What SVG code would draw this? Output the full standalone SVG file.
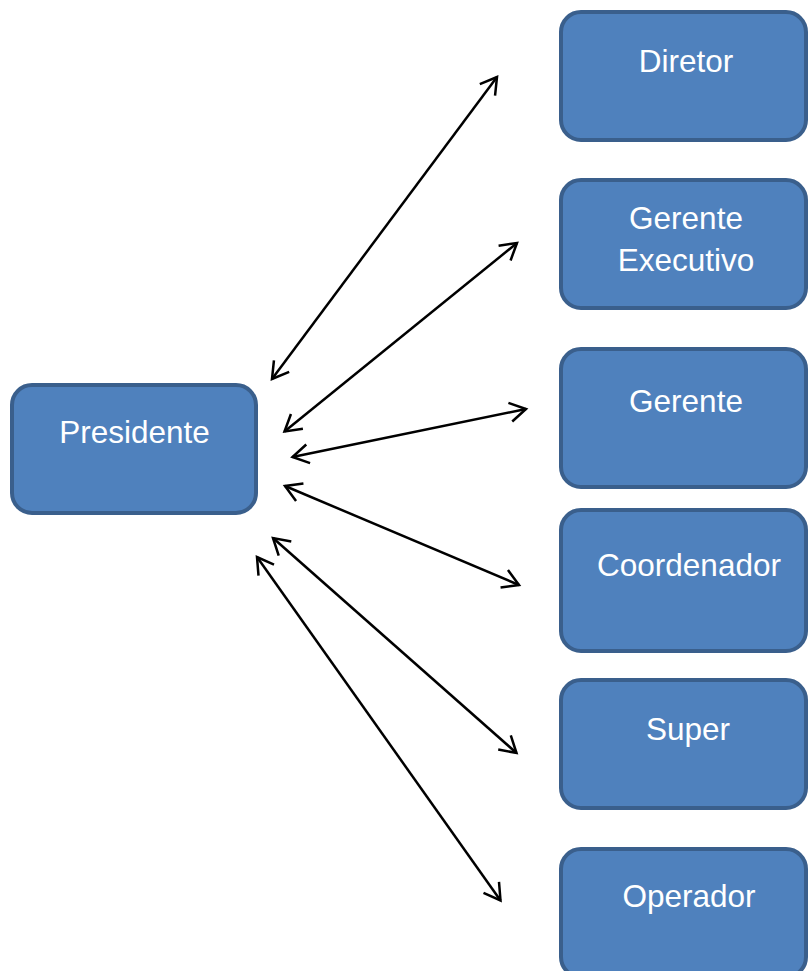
<svg xmlns="http://www.w3.org/2000/svg" width="810" height="971" viewBox="0 0 810 971">
<style>
.box{fill:#4F81BD;stroke:#3A5F8C;stroke-width:4}
.lbl{font-family:"Liberation Sans",Arial,sans-serif;font-size:31.5px;fill:#FFFFFF;text-anchor:middle}
.con{stroke:#000;stroke-width:2.5;fill:none;marker-start:url(#ah);marker-end:url(#ah)}
</style>
<defs>
<marker id="ah" markerUnits="userSpaceOnUse" viewBox="-20 -12 24 24" refX="0" refY="0" markerWidth="24" markerHeight="24" orient="auto-start-reverse">
<path d="M-16,-9.5 L0,0 L-16,9.5" fill="none" stroke="#000" stroke-width="2.5"/>
</marker>
</defs>
<rect width="810" height="971" fill="#FFFFFF"/>
<g id="presidente"><rect class="box" x="12" y="385" width="244" height="128" rx="20"/><text class="lbl" x="134.5" y="443">Presidente</text></g>
<g id="diretor"><rect class="box" x="561" y="12" width="245" height="128" rx="20"/><text class="lbl" x="686" y="72">Diretor</text></g>
<g id="gerente-executivo"><rect class="box" x="561" y="180" width="245" height="128" rx="20"/><text class="lbl" x="686" y="229">Gerente</text><text class="lbl" x="686" y="271">Executivo</text></g>
<g id="gerente"><rect class="box" x="561" y="349" width="245" height="138" rx="20"/><text class="lbl" x="686" y="412">Gerente</text></g>
<g id="coordenador"><rect class="box" x="561" y="510" width="245" height="141" rx="20"/><text class="lbl" x="689" y="576">Coordenador</text></g>
<g id="super"><rect class="box" x="561" y="680" width="245" height="128" rx="20"/><text class="lbl" x="688" y="740">Super</text></g>
<g id="operador"><rect class="box" x="561" y="849" width="245" height="128" rx="20"/><text class="lbl" x="689" y="907">Operador</text></g>
<g id="connectors">
<line class="con" x1="272" y1="379" x2="497" y2="77"/>
<line class="con" x1="284.5" y1="431.5" x2="517" y2="243"/>
<line class="con" x1="292.5" y1="457" x2="526" y2="409"/>
<line class="con" x1="285" y1="486" x2="519" y2="585"/>
<line class="con" x1="273" y1="538" x2="516.5" y2="753"/>
<line class="con" x1="257" y1="557" x2="500.5" y2="900.5"/>
</g>
</svg>
